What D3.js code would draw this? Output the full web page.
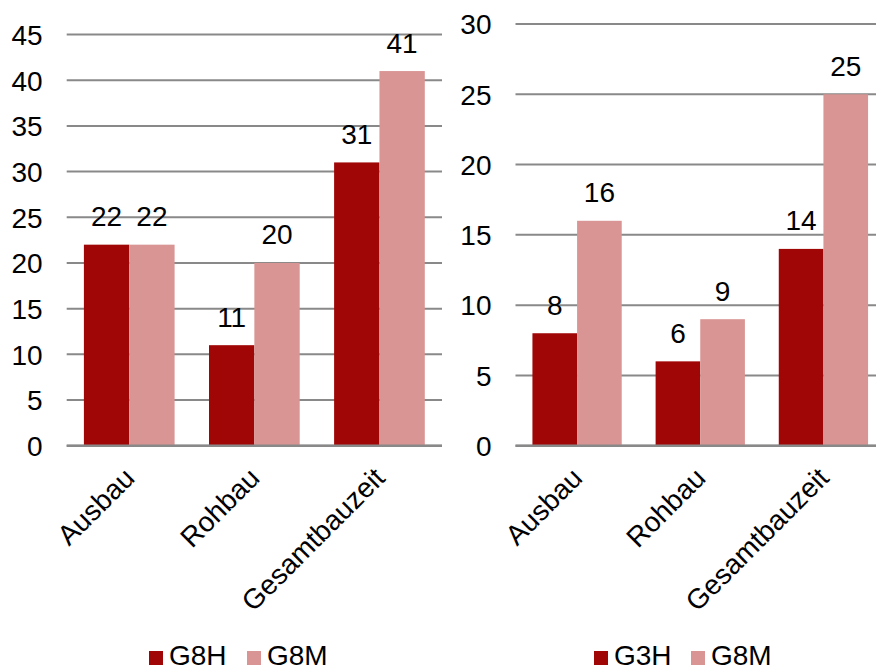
<!DOCTYPE html>
<html>
<head>
<meta charset="utf-8">
<script src="https://cdn.jsdelivr.net/npm/d3@7"></script>
<style>
  html, body { margin: 0; padding: 0; background: #fff; }
  svg { display: block; font-family: "Liberation Sans", Arial, sans-serif; }
</style>
</head>
<body>
<svg id="chart" width="876" height="670"></svg>
<script>
// Construction durations per phase, two comparisons side by side
const categories = ["Ausbau", "Rohbau", "Gesamtbauzeit"];

const leftSeriesNames = ["G8H", "G8M"];
const leftG8H = [22, 11, 31];
const leftG8M = [22, 20, 41];
const leftTicks = [0, 5, 10, 15, 20, 25, 30, 35, 40, 45];

const rightSeriesNames = ["G3H", "G8M"];
const rightG3H = [8, 6, 14];
const rightG8M = [16, 9, 25];
const rightTicks = [0, 5, 10, 15, 20, 25, 30];

const colors = ["#a00606", "#d99594"];
const gridColor = "#898989";
const fontSize = 28;

const svg = d3.select("#chart");

function drawPanel(cfg) {
  const g = svg.append("g");
  const yMax = cfg.ticks[cfg.ticks.length - 1];
  const y = d3.scaleLinear().domain([0, yMax]).range([cfg.bottom, cfg.top]);
  const x0 = d3.scaleBand().domain(categories)
    .range([cfg.left, cfg.right]).paddingInner(0.275).paddingOuter(0.1375);
  const x1 = d3.scaleBand().domain([0, 1]).range([0, x0.bandwidth()]);

  // horizontal gridlines
  g.append("g").selectAll("line").data(cfg.ticks).join("line")
    .attr("x1", cfg.left).attr("x2", Math.min(cfg.right, 876))
    .attr("y1", d => y(d)).attr("y2", d => y(d))
    .attr("stroke", gridColor).attr("stroke-width", 2);

  // y axis labels
  const yAxis = d3.axisLeft(y).tickValues(cfg.ticks).tickSize(0).tickPadding(0)
    .tickFormat(d3.format("d"));
  const ya = g.append("g").attr("transform", `translate(${cfg.left - 24},0)`).call(yAxis);
  ya.select(".domain").remove();
  ya.selectAll("text").attr("font-size", fontSize).attr("fill", "#000")
    .attr("font-family", "Liberation Sans, Arial, sans-serif").attr("dy", "0.35em");

  // bars
  const rows = categories.map((c, i) => ({ c, vals: cfg.series.map(s => s[i]) }));
  const groups = g.append("g").selectAll("g").data(rows).join("g")
    .attr("transform", d => `translate(${x0(d.c)},0)`);
  groups.selectAll("rect").data(d => d.vals.map((v, k) => ({ v, k }))).join("rect")
    .attr("x", d => x1(d.k)).attr("width", x1.bandwidth())
    .attr("y", d => y(d.v)).attr("height", d => y(0) - y(d.v))
    .attr("fill", d => colors[d.k]);

  // value labels
  groups.selectAll("text").data(d => d.vals.map((v, k) => ({ v, k }))).join("text")
    .attr("x", d => x1(d.k) + x1.bandwidth() / 2)
    .attr("y", d => y(d.v) - 18.5)
    .attr("text-anchor", "middle").attr("font-size", fontSize).attr("fill", "#000")
    .text(d => d.v);

  // baseline
  g.append("line").attr("x1", cfg.left).attr("x2", Math.min(cfg.right, 876))
    .attr("y1", y(0)).attr("y2", y(0)).attr("stroke", gridColor).attr("stroke-width", 2.5);

  // rotated category labels
  const xAxis = d3.axisBottom(x0).tickSize(0).tickPadding(0);
  const xa = g.append("g").attr("transform", `translate(0,${y(0)})`).call(xAxis);
  xa.select(".domain").remove();
  xa.selectAll("text")
    .attr("font-size", fontSize).attr("fill", "#000")
    .attr("font-family", "Liberation Sans, Arial, sans-serif")
    .attr("text-anchor", "end").attr("dy", null).attr("y", 0)
    .attr("transform", "translate(7,34) rotate(-45)");

  // legend
  const leg = g.append("g").selectAll("g").data(cfg.names).join("g")
    .attr("transform", (d, i) => `translate(${cfg.legendX[i]},${cfg.legendY})`);
  leg.append("rect").attr("x", 0).attr("y", -14).attr("width", 14).attr("height", 14)
    .attr("fill", (d, i) => colors[i]);
  leg.append("text").attr("x", 20).attr("y", 0).attr("font-size", fontSize)
    .attr("fill", "#000").text(d => d);
}

drawPanel({
  left: 66.7, right: 442, top: 34.5, bottom: 445.7,
  ticks: leftTicks, series: [leftG8H, leftG8M], names: leftSeriesNames,
  legendX: [149, 247], legendY: 665
});

drawPanel({
  left: 515.5, right: 885, top: 24, bottom: 445.7,
  ticks: rightTicks, series: [rightG3H, rightG8M], names: rightSeriesNames,
  legendX: [594, 691], legendY: 665
});
</script>
</body>
</html>
